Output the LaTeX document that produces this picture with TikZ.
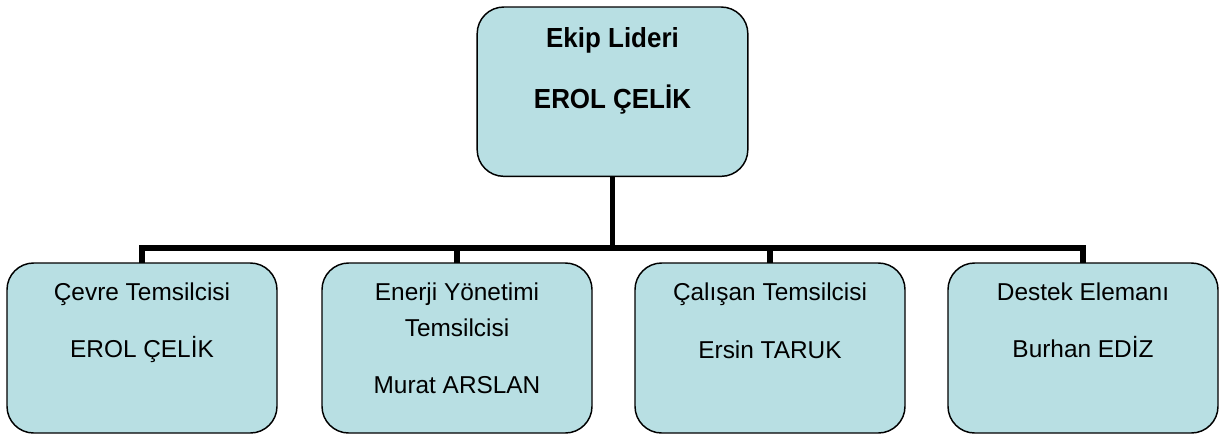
\documentclass[tikz,border=0pt]{standalone}
\usepackage{fontspec}
\setmainfont{Liberation Sans}
\newfontfamily\topfont[FakeStretch=0.94]{Liberation Sans}
\definecolor{boxfill}{RGB}{184,223,227}
\begin{document}
\begin{tikzpicture}[x=0.75pt,y=-0.75pt,
  box/.style={draw=black, line width=1.1pt, fill=boxfill, rounded corners=20pt,
    minimum width=202.5pt, minimum height=127.5pt, inner sep=0pt, outer sep=0pt, anchor=north},
  conn/.style={draw=black, line width=3.8pt},
  toptxt/.style={anchor=base, inner sep=0pt, font=\topfont\fontsize{20.7}{24}\selectfont\bfseries},
  subtxt/.style={anchor=base, inner sep=0pt, font=\fontsize{18.3}{22}\selectfont}]
\useasboundingbox (0,0) rectangle (1224,437);
% boxes
\node[box, minimum width=203pt, minimum height=127pt] (top) at (612.5,7) {};
\node[box] (b1) at (142,263) {};
\node[box] (b2) at (457,263) {};
\node[box] (b3) at (770,263) {};
\node[box] (b4) at (1083,263) {};
% bar
\coordinate (bar) at (612.5,248);
\draw[conn] (top.south) -- (top.south |- bar);
\draw[conn] (b1.north) -- (b1.north |- bar) -- (b4.north |- bar) -- (b4.north);
\draw[conn] (b2.north |- bar) -- (b2.north);
\draw[conn] (b3.north |- bar) -- (b3.north);
% texts
\node[toptxt] (t0a) at (612.5,47) {Ekip Lideri};
\node[toptxt] (t0b) at (612.5,108) {EROL ÇELİK};
\node[subtxt] (t1a) at (142,300) {Çevre Temsilcisi};
\node[subtxt] (t1b) at (142,357) {EROL ÇELİK};
\node[subtxt] (t2a) at (457,300) {Enerji Yönetimi};
\node[subtxt] (t2b) at (457,336) {Temsilcisi};
\node[subtxt] (t2c) at (457,393) {Murat ARSLAN};
\node[subtxt] (t3a) at (770,300) {Çalışan Temsilcisi};
\node[subtxt] (t3b) at (770,358) {Ersin TARUK};
\node[subtxt] (t4a) at (1083,300) {Destek Elemanı};
\node[subtxt] (t4b) at (1083,357) {Burhan EDİZ};
\end{tikzpicture}
\end{document}
